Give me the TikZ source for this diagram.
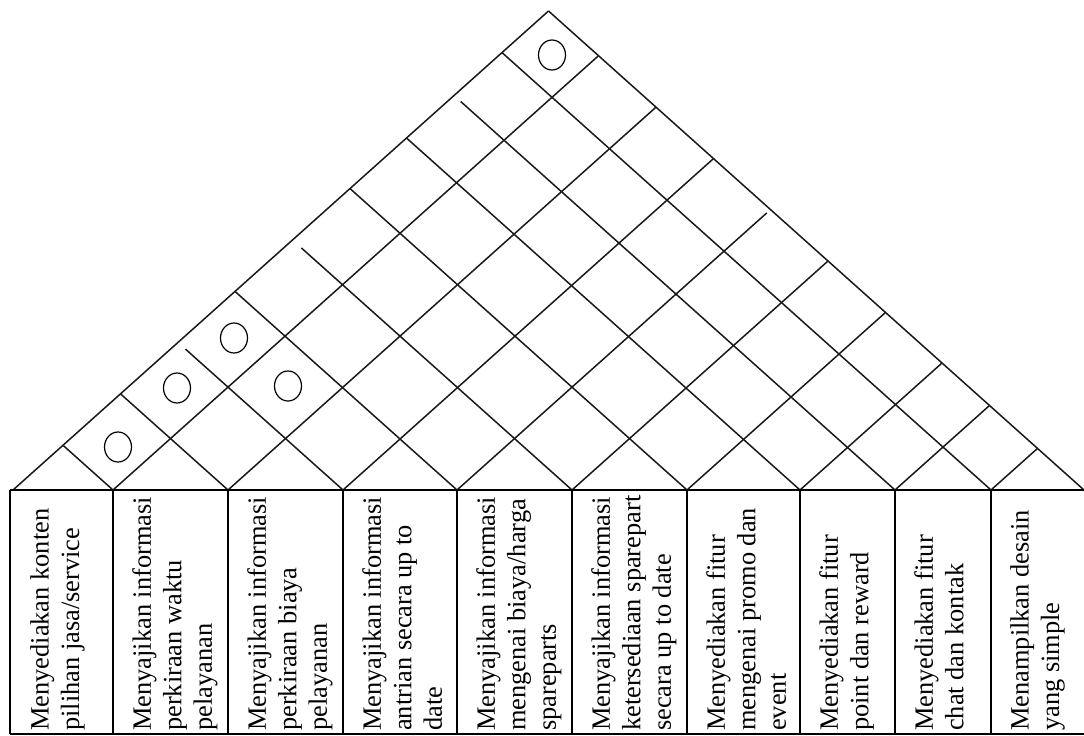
\documentclass[tikz,border=0pt]{standalone}
\usepackage{fontspec}
\setmainfont{Liberation Serif}
\usetikzlibrary{shapes.geometric}
\begin{document}
\begin{tikzpicture}[x=1pt,y=-1pt,
  grid/.style={line width=1.5pt, black!90},
  frame/.style={line width=1.6pt, black},
  corr/.style={draw, ellipse, line width=1.2pt, minimum width=27pt, minimum height=30pt, inner sep=0pt},
  lbl/.style={rotate=90, anchor=north west, align=left, inner sep=0pt,
    font=\fontsize{26.4}{30.5}\selectfont}]
\useasboundingbox (0,0) rectangle (1084,736);
\def\slope{0.8945}
% roof base points and edge end points
\foreach \n/\x in {0/13,1/113,2/228,3/343,4/457,5/572,6/687,7/800,8/895,9/991,10/1084}{
  \coordinate (b\n) at (\x,490);
  \coordinate (r\n) at ({(\x+1084)/2},{490-\slope*(1084-\x)/2});
  \coordinate (l\n) at ({(\x+13)/2},{490-\slope*(\x-13)/2});
}
% up-right lines (b0 -> apex is the left edge)
\foreach \n in {0,1,2,3,5,6,7,8,9}{\draw[grid] (b\n) -- (r\n);}
\draw[grid, shorten >=5pt] (b4) -- (r4);
% up-left lines (b10 -> apex is the right edge)
\foreach \n in {1,2,4,6,7,9,10}{\draw[grid] (b\n) -- (l\n);}
\draw[grid, shorten >=10pt] (b3) -- (l3);
\draw[grid, shorten >=12pt] (b5) -- (l5);
\draw[grid, shorten >=9pt] (b8) -- (l8);
% frame of the requirement columns
\coordinate (tl) at (10,490);
\coordinate (tr) at (1084,490);
\coordinate (bl) at (10,734);
\coordinate (br) at (1084,734);
\draw[frame] (tl) -- (tr);
\draw[frame] (bl) -- (br);
\draw[frame] (tl) -- (bl);
\foreach \n/\x in {1/113,2/228,3/343,4/457,5/572,6/687,7/800,8/895,9/991}{
  \coordinate (v\n) at (\x,734);
  \draw[frame] (b\n) -- (v\n);
}
% correlation marks
\node[corr] (o1) at (118,447) {};
\node[corr] (o2) at (177,388) {};
\node[corr] (o3) at (234,338) {};
\node[corr] (o4) at (288,386) {};
\node[corr] (o5) at (552,55) {};
% column labels
\node[lbl] (c1) at (30,731) {Menyediakan konten\\pilihan jasa/service};
\node[lbl] (c2) at (132,731) {Menyajikan informasi\\perkiraan waktu\\pelayanan};
\node[lbl] (c3) at (247,731) {Menyajikan informasi\\perkiraan biaya\\pelayanan};
\node[lbl] (c4) at (362,731) {Menyajikan informasi\\antrian secara up to\\date};
\node[lbl] (c5) at (476,731) {Menyajikan informasi\\mengenai biaya/harga\\spareparts};
\node[lbl] (c6) at (591,731) {Menyajikan informasi\\ketersediaan sparepart\\secara up to date};
\node[lbl] (c7) at (706,731) {Menyediakan fitur\\mengenai promo dan\\event};
\node[lbl] (c8) at (819,731) {Menyediakan fitur\\point dan reward};
\node[lbl] (c9) at (914,731) {Menyediakan fitur\\chat dan kontak};
\node[lbl] (c10) at (1010,731) {Menampilkan desain\\yang simple};
\end{tikzpicture}
\end{document}
